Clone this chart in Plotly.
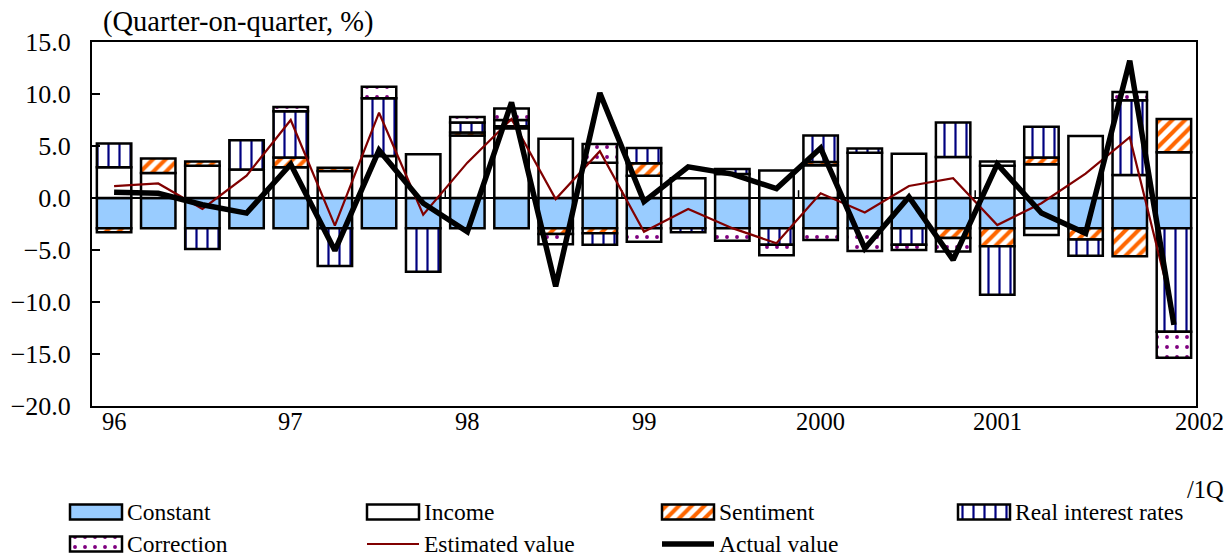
import plotly.graph_objects as go

# ---- data -------------------------------------------------------------
quarters = [
    "96Q1", "96Q2", "96Q3", "96Q4", "97Q1", "97Q2", "97Q3", "97Q4",
    "98Q1", "98Q2", "98Q3", "98Q4", "99Q1", "99Q2", "99Q3", "99Q4",
    "00Q1", "00Q2", "00Q3", "00Q4", "01Q1", "01Q2", "01Q3", "01Q4",
    "02Q1",
]
year_labels = ["96", "97", "98", "99", "2000", "2001", "2002"]
year_label_quarters = ["96Q1", "97Q1", "98Q1", "99Q1", "00Q1", "01Q1", "02Q1"]

constant = [-2.9, -2.9, -2.9, -2.9, -2.9, -2.9, -2.9, -2.9,
            -2.9, -2.9, -2.9, -2.9, -2.9, -2.9, -2.9, -2.9,
            -2.9, -2.9, -2.9, -2.9, -2.9, -2.9, -2.9, -2.9,
            -2.9]
income = [2.95, 2.4, 3.1, 2.75, 2.95, 2.6, 4.05, 4.2,
          6.0, 6.7, 5.7, 3.4, 2.15, 1.9, 2.3, 2.65,
          3.15, 4.35, 4.25, 3.95, 3.1, 3.25, 5.95, 2.2,
          4.4]
sentiment = [-0.4, 1.4, 0.4, None, 0.95, 0.3, None, None,
             0.3, 0.2, -0.55, -0.5, 1.2, None, None, None,
             0.3, None, None, -0.95, -1.75, 0.65, -1.1, -2.7,
             3.2]
real_rates = [2.3, None, -2.0, 2.8, 4.45, -3.65, 5.55, -4.2,
              0.95, 0.6, None, -1.1, 1.45, -0.4, 0.5, -1.6,
              2.55, 0.4, -1.6, 3.3, -4.65, 2.95, -1.55, 7.2,
              -9.95]
correction = [None, None, None, None, 0.4, None, 1.1, None,
              0.55, 1.1, -1.0, 1.8, -1.3, None, -1.2, -1.0,
              -1.15, -2.2, -0.5, -1.3, 0.4, -0.65, None, 0.8,
              -2.5]
estimated = [1.15, 1.4, -1.05, 2.15, 7.5, -2.65, 8.2, -1.6,
             3.4, 7.6, -0.1, 4.5, -3.25, -1.05, -2.9, -4.35,
             0.45, -1.4, 1.15, 1.9, -2.6, -0.5, 2.35, 5.85,
             -11.3]
actual = [0.55, 0.45, -0.65, -1.45, 3.25, -5.05, 4.6, -0.5,
          -3.25, 9.2, -8.5, 10.1, -0.35, 3.0, 2.3, 0.9,
          4.8, -4.85, 0.1, -5.95, 3.25, -1.45, -3.4, 13.2,
          -12.2]

# ---- styles -----------------------------------------------------------
FONT = "Liberation Serif, Times New Roman, DejaVu Serif, serif"
W, H = 1228, 556
PLOT_L, PLOT_R, PLOT_T, PLOT_B = 92, 1196, 42, 406

series_styles = [
    dict(name="Constant", color="#99CCFF", pattern=None),
    dict(name="Income", color="#FFFFFF", pattern=None),
    dict(name="Sentiment", color="#FFFFFF",
         pattern=dict(shape="/", fgcolor="#FF6600", bgcolor="#FFFFFF",
                      size=9, solidity=0.45, fgopacity=1)),
    dict(name="Real interest rates", color="#FFFFFF",
         pattern=dict(shape="|", fgcolor="#000080", bgcolor="#FFFFFF",
                      size=11, solidity=0.2, fgopacity=1)),
    dict(name="Correction", color="#FFFFFF",
         pattern=dict(shape=".", fgcolor="#800080", bgcolor="#FFFFFF",
                      size=10, solidity=0.12, fgopacity=1)),
]
bar_values = [constant, income, sentiment, real_rates, correction]

fig = go.Figure()

for style, vals in zip(series_styles, bar_values):
    marker = dict(color=style["color"], line=dict(color="black", width=2.5))
    if style["pattern"]:
        marker["pattern"] = style["pattern"]
    fig.add_trace(go.Bar(
        x=quarters, y=vals, name=style["name"], width=0.78,
        marker=marker, showlegend=False,
    ))

fig.add_trace(go.Scatter(
    x=quarters, y=estimated, mode="lines", name="Estimated value",
    line=dict(color="#800000", width=2.2), showlegend=False,
))
fig.add_trace(go.Scatter(
    x=quarters, y=actual, mode="lines", name="Actual value",
    line=dict(color="black", width=5.5), showlegend=False,
))

# ---- hand-drawn legend on an auxiliary pixel-scaled axis --------------
legend_slots = [(70, 512), (367, 512), (662, 512), (958, 512),
                (70, 544), (367, 544), (662, 544)]
SW_W, SW_H = 52, 15
legend_entries = series_styles + [
    dict(name="Estimated value", line=dict(color="#800000", width=2.2)),
    dict(name="Actual value", line=dict(color="black", width=5.5)),
]
annotations = []
for entry, (lx, ly) in zip(legend_entries, legend_slots):
    if "line" in entry:
        fig.add_trace(go.Scatter(
            x=[lx, lx + SW_W], y=[ly, ly], mode="lines", line=entry["line"],
            xaxis="x2", yaxis="y2", showlegend=False, hoverinfo="skip",
        ))
    else:
        marker = dict(color=entry["color"], line=dict(color="black", width=2.5))
        if entry["pattern"]:
            marker["pattern"] = entry["pattern"]
        fig.add_trace(go.Bar(
            x=[lx + SW_W / 2], y=[SW_H], base=[ly - SW_H / 2], width=[SW_W],
            marker=marker, xaxis="x2", yaxis="y2",
            showlegend=False, hoverinfo="skip",
        ))
    annotations.append(dict(
        x=(lx + SW_W + 3) / W, y=(H - ly) / H, xref="paper", yref="paper",
        text=entry["name"],
        showarrow=False, xanchor="left", yanchor="middle",
        font=dict(family=FONT, size=23.5, color="black"),
    ))

# year labels under the category axis
for lbl, q in zip(year_labels, year_label_quarters):
    annotations.append(dict(
        x=q, y=(H - 422) / H, xref="x", yref="paper", text=lbl,
        showarrow=False, xanchor="center", yanchor="middle",
        xshift=26 if lbl == "2002" else 0,
        font=dict(family=FONT, size=24.5, color="black"),
    ))

annotations.append(dict(
    x=1226 / W, y=(H - 489) / H, xref="paper", yref="paper", text="/1Q",
    showarrow=False, xanchor="right", yanchor="middle",
    font=dict(family=FONT, size=24.5, color="black"),
))
annotations.append(dict(
    x=101 / W, y=(H - 22) / H, xref="paper", yref="paper",
    text="(Quarter-on-quarter, %)",
    showarrow=False, xanchor="left", yanchor="middle",
    font=dict(family=FONT, size=28.5, color="black"),
))

# zero line and year-boundary ticks on it
shapes = [dict(type="line", xref="x domain", yref="y", x0=0, x1=1, y0=0, y1=0,
               line=dict(color="black", width=2), layer="below")]
for i in range(4, len(quarters), 4):
    shapes.append(dict(type="line", xref="x", yref="y", x0=i - 0.5, x1=i - 0.5,
                       y0=0, y1=0.75, line=dict(color="black", width=1.5),
                       layer="below"))

hidden_axis = dict(showticklabels=False, showline=False, showgrid=False,
                   zeroline=False, ticks="", automargin=False)

fig.update_layout(
    width=W, height=H, autosize=False,
    margin=dict(l=0, r=0, t=0, b=0, pad=0, autoexpand=False),
    paper_bgcolor="white", plot_bgcolor="rgba(0,0,0,0)",
    barmode="relative", bargap=0.22,
    showlegend=False,
    font=dict(family=FONT, color="black"),
    xaxis=dict(
        domain=[PLOT_L / W, PLOT_R / W], type="category",
        range=[-0.5, len(quarters) - 0.5], automargin=False,
        showticklabels=False, ticks="", showgrid=False, zeroline=False,
        showline=True, linecolor="black", linewidth=2, mirror=True,
    ),
    yaxis=dict(
        domain=[(H - PLOT_B) / H, (H - PLOT_T) / H],
        range=[-20, 15], dtick=5, tickformat=".1f", automargin=False,
        ticks="inside", ticklen=8, tickwidth=1.5, tickcolor="black",
        showgrid=False, zeroline=False,
        showline=True, linecolor="black", linewidth=2, mirror=True,
        tickfont=dict(family=FONT, size=26, color="black"),
        ticklabelstandoff=14,
    ),
    xaxis2=dict(domain=[0, 1], range=[0, W], anchor="y2", **hidden_axis),
    yaxis2=dict(domain=[0, 84 / H], range=[H, H - 84], anchor="x2", **hidden_axis),
    annotations=annotations,
    shapes=shapes,
)

fig.write_html("out.html")
